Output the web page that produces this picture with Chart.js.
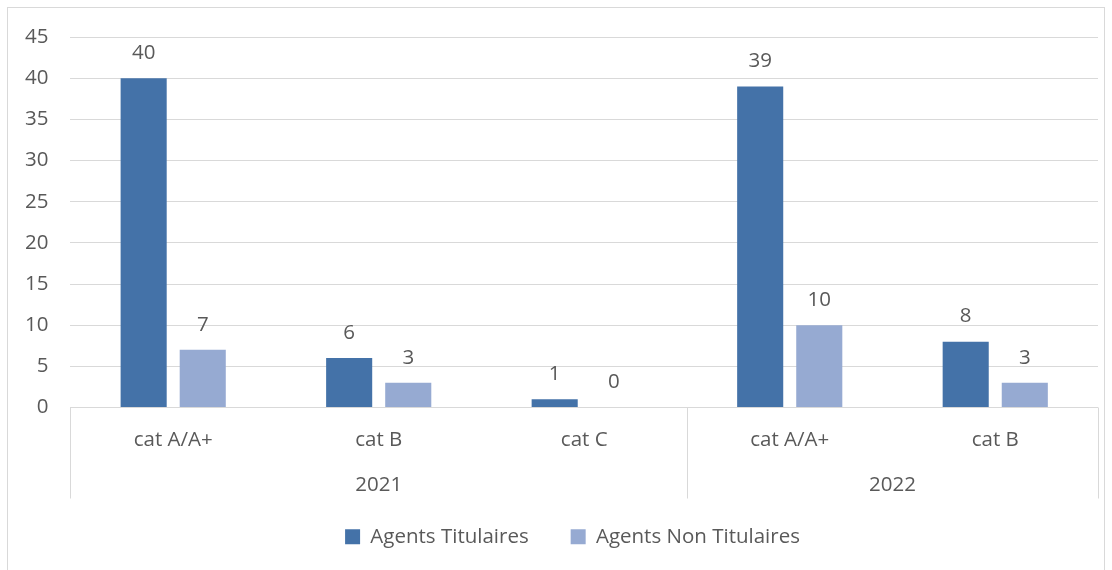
<!DOCTYPE html>
<html>
<head>
<meta charset="utf-8">
<script src="https://cdn.jsdelivr.net/npm/chart.js@4/dist/chart.umd.min.js"></script>
<style>
	html, body { margin: 0; padding: 0; background: #fff; }
	#wrap { width: 1112px; height: 570px; position: relative; }
</style>
</head>
<body>
<div id="wrap"><canvas id="chart"></canvas></div>
<script>
( function() { 'use strict';

	// categories and groups
	const categories = [ 'cat A/A+', 'cat B', 'cat C', 'cat A/A+', 'cat B' ];
	const yearLabels = [ '2021', '2022' ];
	const yearSizes = [ 3, 2 ];

	// series values
	const titulaires = [ 40, 6, 1, 39, 8 ];
	const nonTitulaires = [ 7, 3, 0, 10, 3 ];

	const yTicks = { min: 0, max: 45, step: 5 };

	const textColor = '#595959';
	const gridColor = '#d9d9d9';
	const fontFamily = '"Open Sans", Lato, sans-serif';
	const fontSize = 20.5;

	/**
	 * Value labels above each bar
	 */
	const valueLabels = {
		id: 'valueLabels',
		afterDatasetsDraw: function( chart ) {
			const ctx = chart.ctx;
			ctx.save();
			ctx.fillStyle = textColor;
			ctx.font = fontSize + 'px ' + fontFamily;
			ctx.textAlign = 'center';
			ctx.textBaseline = 'middle';
			chart.data.datasets.forEach( function( ds, i ) {
				chart.getDatasetMeta( i ).data.forEach( function( bar, j ) {
					ctx.fillText( ds.data[ j ], bar.x, bar.y - 25 );
				} );
			} );
			ctx.restore();
		}
	};

	/**
	 * Nudge the legend (wide item gap, smaller vertical gap)
	 */
	const legendShift = {
		id: 'legendShift',
		afterLayout: function( chart ) {
			chart.legend.top -= 14;
			chart.legend.bottom -= 14;
			chart.legend.left += 22;
			chart.legend.right += 22;
		}
	};

	/**
	 * Second level of the x axis: year labels and separators
	 */
	const yearAxis = {
		id: 'yearAxis',
		afterDraw: function( chart ) {
			const ctx = chart.ctx;
			const x = chart.scales.x;
			const top = chart.chartArea.bottom;
			const bottom = x.bottom;
			const half = ( x.getPixelForValue( 1 ) - x.getPixelForValue( 0 ) ) / 2;
			ctx.save();
			ctx.strokeStyle = gridColor;
			ctx.lineWidth = 1;
			ctx.fillStyle = textColor;
			ctx.font = fontSize + 'px ' + fontFamily;
			ctx.textAlign = 'center';
			ctx.textBaseline = 'middle';
			let start = 0;
			const edges = [ 0 ];
			yearSizes.forEach( function( size, i ) {
				const end = start + size;
				const left = x.getPixelForValue( start ) - half;
				const right = x.getPixelForValue( end - 1 ) + half;
				ctx.fillText( yearLabels[ i ], ( left + right ) / 2, bottom - 13 );
				edges.push( end );
				start = end;
			} );
			edges.forEach( function( e ) {
				const px = Math.round( x.getPixelForValue( e ) - half ) + 0.5;
				ctx.beginPath();
				ctx.moveTo( px, top );
				ctx.lineTo( px, bottom );
				ctx.stroke();
			} );
			// outer frame
			ctx.strokeStyle = gridColor;
			ctx.strokeRect( 7.5, 7.5, 1097, 600 );
			ctx.restore();
		}
	};

	new Chart( document.getElementById( 'chart' ), {
		type: 'bar',
		data: {
			labels: categories,
			datasets: [ {
				label: 'Agents Titulaires',
				data: titulaires,
				backgroundColor: '#4472a8',
				categoryPercentage: 0.575,
				barPercentage: 0.78
			}, {
				label: 'Agents Non Titulaires',
				data: nonTitulaires,
				backgroundColor: '#96aad2',
				categoryPercentage: 0.575,
				barPercentage: 0.78
			} ]
		},
		options: {
			responsive: true,
			maintainAspectRatio: false,
			animation: false,
			devicePixelRatio: 1,
			layout: { padding: { top: 37, right: 14, bottom: -1, left: 3 } },
			plugins: {
				tooltip: { enabled: false },
				legend: {
					position: 'bottom',
					labels: {
						color: textColor,
						font: { family: fontFamily, size: fontSize },
						boxWidth: 15,
						boxHeight: 15,
						padding: 42
					}
				}
			},
			scales: {
				x: {
					grid: { display: false },
					border: { display: false },
					ticks: {
						color: textColor,
						font: { family: fontFamily, size: fontSize },
						padding: 12
					},
					afterFit: function( scale ) { scale.height = 91; }
				},
				y: {
					min: yTicks.min,
					max: yTicks.max,
					grid: { color: gridColor, drawTicks: false },
					border: { display: false },
					ticks: {
						stepSize: yTicks.step,
						color: textColor,
						font: { family: fontFamily, size: fontSize },
						padding: 22
					}
				}
			}
		},
		plugins: [ valueLabels, legendShift, yearAxis ]
	} );

} )();
</script>
</body>
</html>
